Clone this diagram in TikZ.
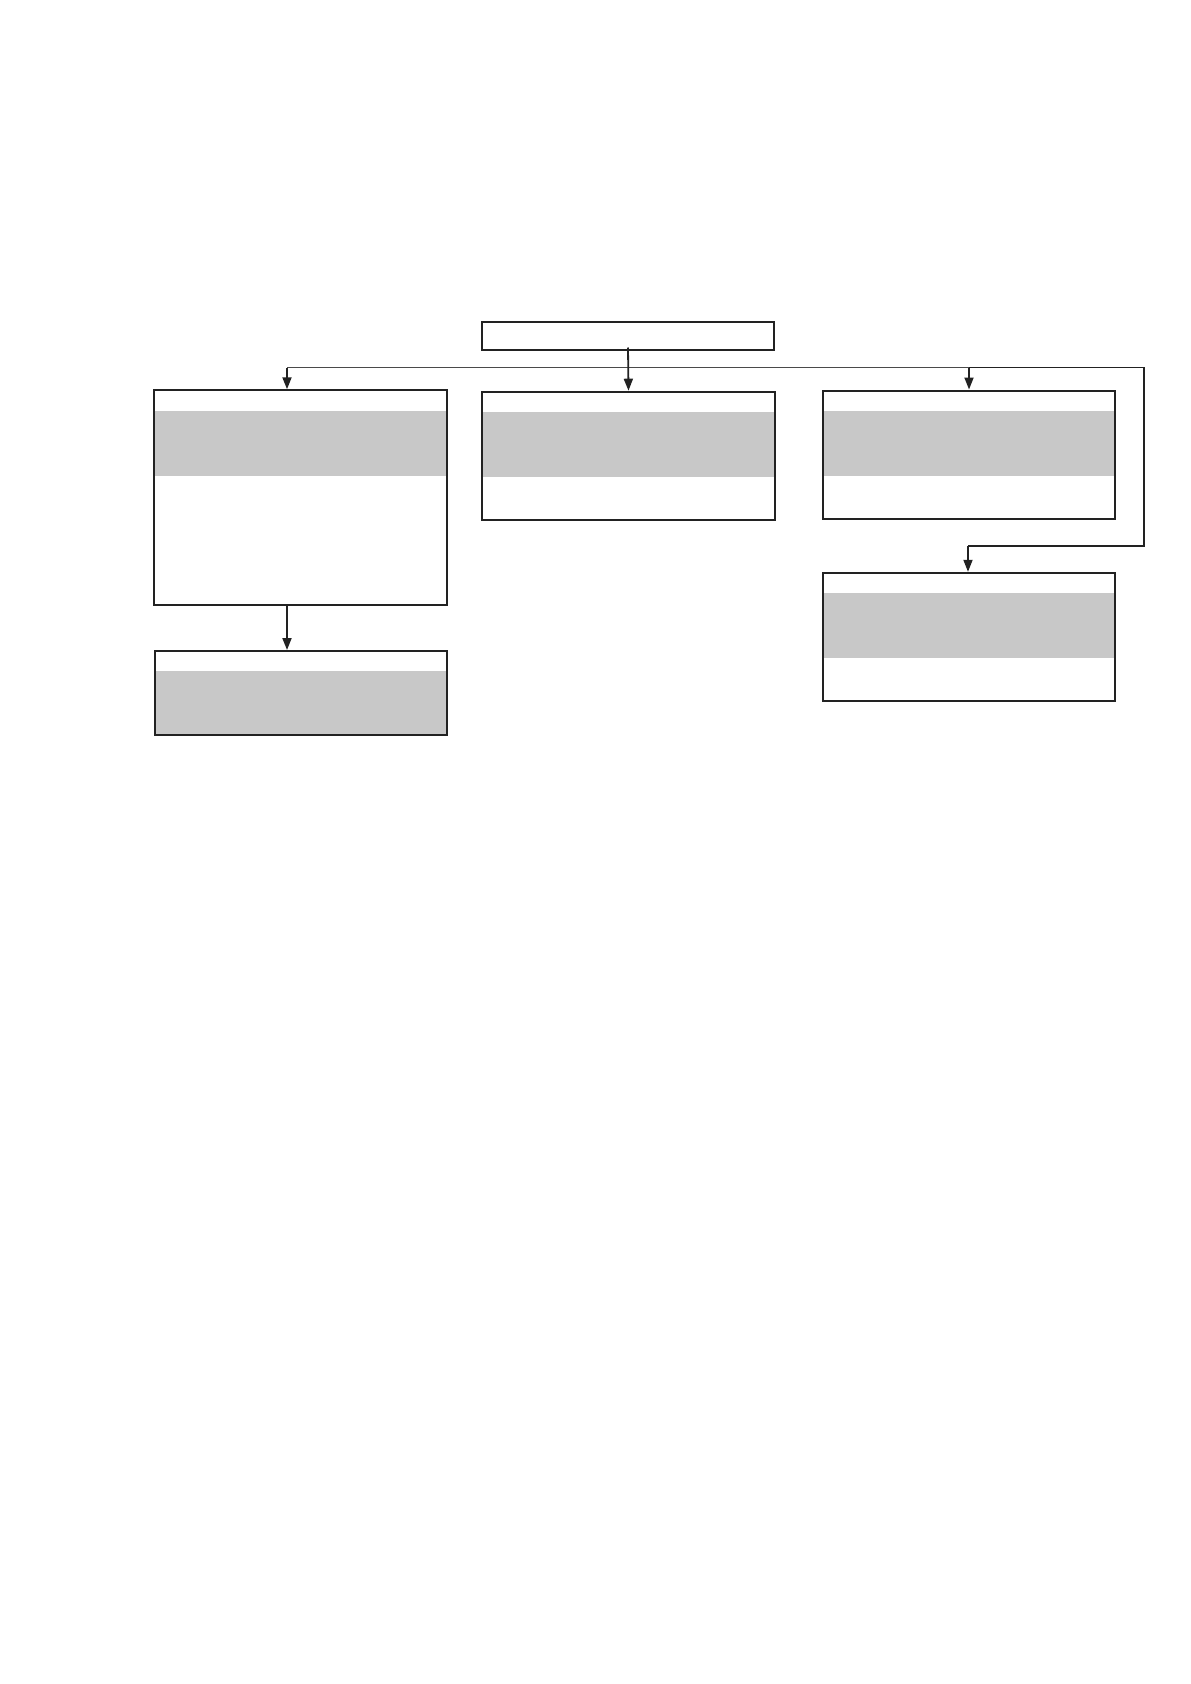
\documentclass[tikz,border=0pt]{standalone}
\usetikzlibrary{arrows.meta,calc}
\definecolor{band}{HTML}{C8C8C8}
\definecolor{ink}{HTML}{222222}
\definecolor{busline}{HTML}{4A4A4A}
\begin{document}
\begin{tikzpicture}[x=1pt,y=-1pt,
  boxnode/.style={draw=ink,line width=2pt,rectangle,inner sep=0pt,minimum width=#1},
  conn/.style={draw=ink,line width=1.8pt},
  arr/.style={conn,-{Triangle[length=12pt,width=9pt]}}]
\useasboundingbox (0,0) rectangle (1191,1684);
% grey bands
\fill[band] (154,411) rectangle (448,476.3);
\fill[band] (481.5,412) rectangle (775.5,477);
\fill[band] (822,411) rectangle (1115.5,476);
\fill[band] (822,593.3) rectangle (1115.5,658);
\fill[band] (154.5,671) rectangle (447.5,735);
% boxes
\node[boxnode=292pt,minimum height=28pt] (top) at (628,335.5) {};
\node[boxnode=293pt,minimum height=215pt] (left) at (300.75,497.75) {};
\node[boxnode=293pt,minimum height=128pt] (mid) at (628.5,455.7) {};
\node[boxnode=292pt,minimum height=128pt] (right) at (969,454.5) {};
\node[boxnode=292pt,minimum height=128pt] (lowright) at (969,636.8) {};
\node[boxnode=292pt,minimum height=84pt] (lowleft) at (301,693) {};
% bus coordinates
\coordinate (jl) at (287,367.5);
\coordinate (jr) at (969,367.5);
\coordinate (je) at (1144,367.5);
\coordinate (jd) at (1144,546);
\coordinate (jk) at (968,546);
% connectors
\draw[draw=busline,line width=1.7pt] (jl) -- (jr);
\draw[conn] (jr) -- (je) -- (jd) -- (jk);
\draw[arr] ($(top.south)+(0,-3)$) -- (mid.north);
\draw[arr] (jl) -- (jl |- left.north);
\draw[arr] (jr) -- (jr |- right.north);
\draw[arr] (jk) -- (jk |- lowright.north);
\draw[arr] (jl |- left.south) -- (jl |- lowleft.north);
\end{tikzpicture}
\end{document}
